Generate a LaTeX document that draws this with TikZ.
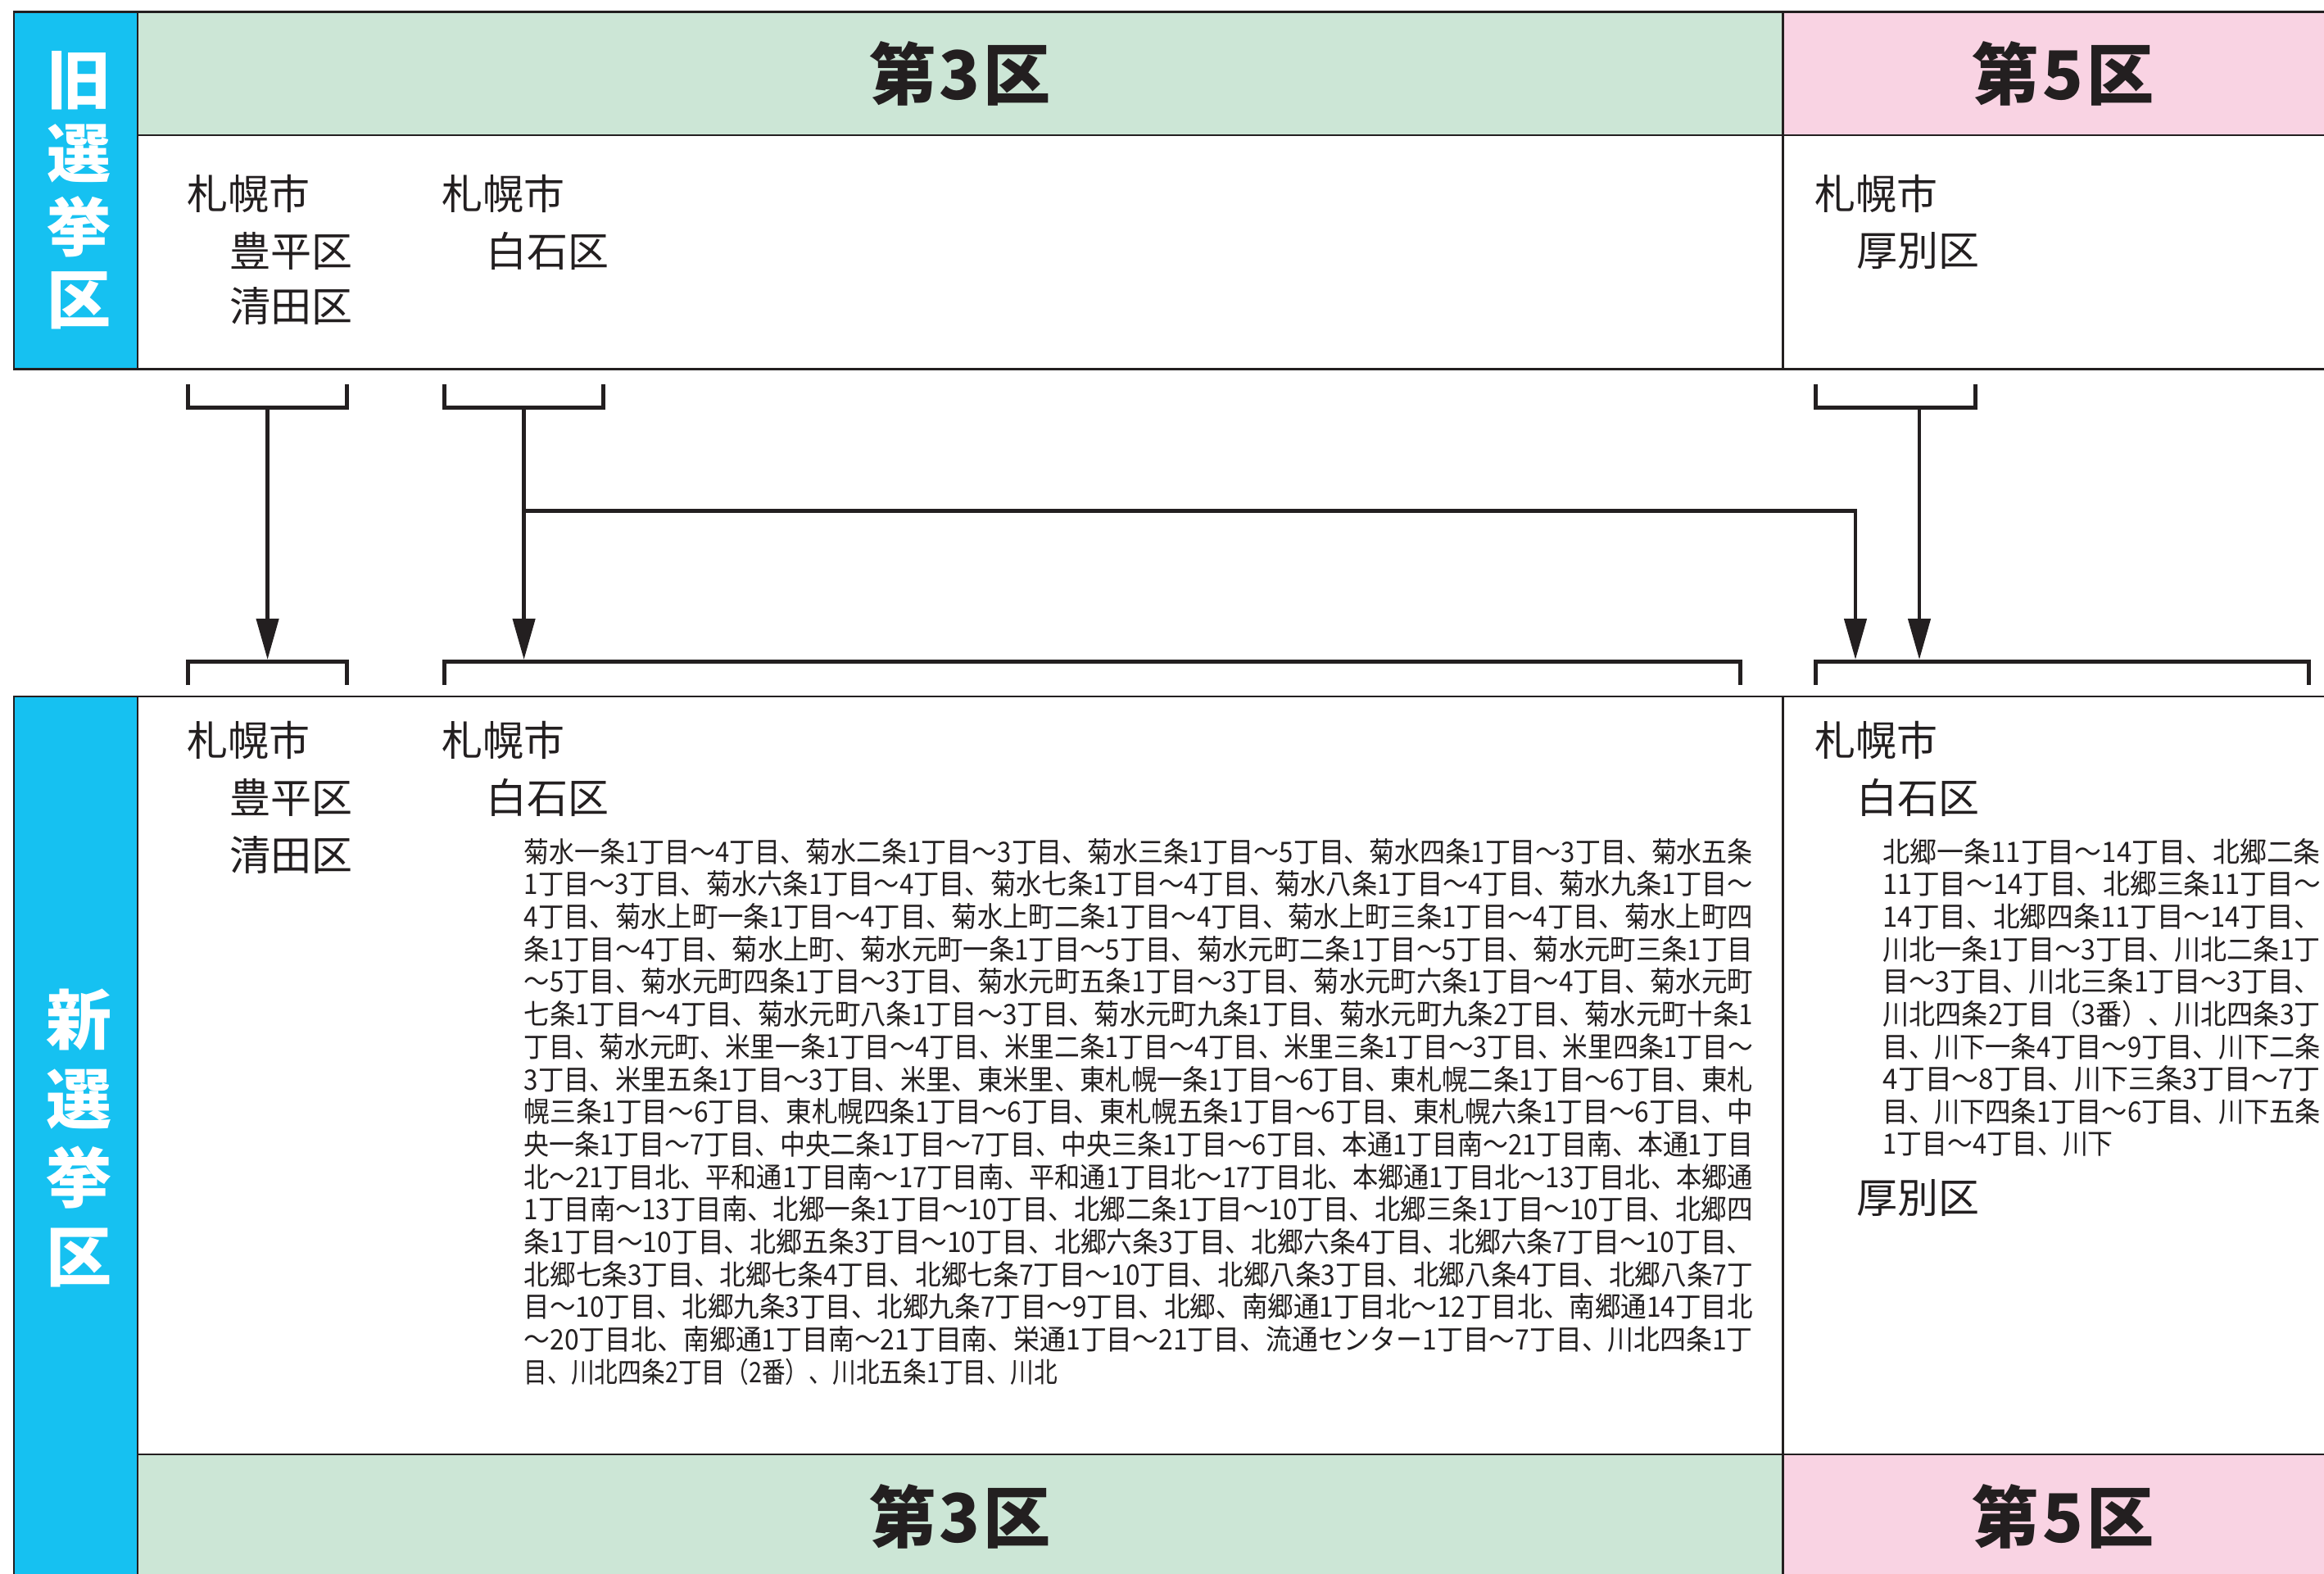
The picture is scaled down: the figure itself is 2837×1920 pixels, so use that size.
\documentclass[tikz,border=0pt]{standalone}
\usepackage{graphicx}
\usepackage{fontspec}
\newfontfamily\cjk{Noto Sans CJK JP}
\usetikzlibrary{arrows.meta}
\definecolor{inkc}{HTML}{231F20}
\definecolor{bluec}{HTML}{16C1F1}
\definecolor{greenc}{HTML}{CCE6D6}
\definecolor{pinkc}{HTML}{F9D3E3}
\begin{document}
\begin{tikzpicture}[x=0.25pt,y=-0.25pt,
  tbl/.style={draw=inkc,line width=0.7pt},
  lbl/.style={font=\cjk\fontsize{12.5pt}{15pt}\selectfont,text=inkc,inner sep=0pt,anchor=west},
  sm/.style={font=\cjk\fontsize{8.6pt}{10pt}\selectfont,text=inkc,inner sep=0pt,anchor=west},
  hdr/.style={font=\cjk\bfseries\fontsize{20.5pt}{24pt}\selectfont,text=inkc,inner sep=0pt},
  vtop/.style={font=\cjk\bfseries\fontsize{19.5pt}{22pt}\selectfont,text=white,inner sep=0pt},
  vbot/.style={font=\cjk\bfseries\fontsize{20pt}{22pt}\selectfont,text=white,inner sep=0pt},
  brk/.style={draw=inkc,line width=1.25pt,line join=miter},
  arr/.style={draw=inkc,line width=1.1pt,line join=miter,-{Triangle[width=6.75pt,length=12.5pt]}}]
\useasboundingbox (0,0) rectangle (2837,1920);
\clip (0,0) rectangle (2837,1920);
\fill[white] (0,0) rectangle (2837,1920);
% ---- top table ----
\fill[bluec] (17,14.5) rectangle (168,450.5);
\fill[greenc] (168,14.5) rectangle (2176.5,165);
\fill[pinkc] (2176.5,14.5) rectangle (2861,165);
\draw[tbl] (17,14.5) rectangle (2861,450.5);
\draw[tbl] (168,14.5) -- (168,450.5);
\draw[tbl] (168,165) -- (2861,165);
\draw[tbl] (2176.5,14.5) -- (2176.5,450.5);
% ---- bottom table ----
\fill[bluec] (17,850) rectangle (168,1925);
\fill[greenc] (168,1775) rectangle (2176.5,1925);
\fill[pinkc] (2176.5,1775) rectangle (2861,1925);
\draw[tbl] (17,850) rectangle (2861,1925);
\draw[tbl] (168,850) -- (168,1925);
\draw[tbl] (168,1775) -- (2861,1775);
\draw[tbl] (2176.5,850) -- (2176.5,1925);
% ---- side labels ----
\node[vtop] (o1) at (96,98) {旧};
\node[vtop] (o2) at (96,187) {選};
\node[vtop] (o3) at (96,276.5) {挙};
\node[vtop] (o4) at (96,367) {区};
\node[vbot] (n1) at (96,1245) {新};
\node[vbot] (n2) at (96,1342) {選};
\node[vbot] (n3) at (96,1437) {挙};
\node[vbot] (n4) at (96,1535) {区};
% ---- headers ----
\node[hdr] (h3t) at (1172,90) {第\kern1pt3\kern1pt区};
\node[hdr] (h5t) at (2518.6,90) {第\kern1pt5\kern1pt区};
\node[hdr] (h3b) at (1172,1851) {第\kern1pt3\kern1pt区};
\node[hdr] (h5b) at (2518.6,1851) {第\kern1pt5\kern1pt区};
% ---- old district labels ----
\node[lbl] (os1) at (228,236) {札幌市};
\node[lbl] (ot) at (280,306) {豊平区};
\node[lbl] (ok) at (280,374) {清田区};
\node[lbl] (os2) at (539,236) {札幌市};
\node[lbl] (osh) at (593,306) {白石区};
\node[lbl] (os3) at (2215,236) {札幌市};
\node[lbl] (oa) at (2266,306) {厚別区};
% ---- new district labels ----
\node[lbl] (ns1) at (228,903) {札幌市};
\node[lbl] (nt) at (280,973) {豊平区};
\node[lbl] (nk) at (280,1044) {清田区};
\node[lbl] (ns2) at (539,903) {札幌市};
\node[lbl] (nsh) at (593,973) {白石区};
\node[lbl] (ns3) at (2215,903) {札幌市};
\node[lbl] (nsh2) at (2266,973) {白石区};
\node[lbl] (na) at (2266,1462) {厚別区};
% ---- middle paragraph ----
\foreach \i/\t in {
0/{菊水一条1丁目～4丁目、菊水二条1丁目～3丁目、菊水三条1丁目～5丁目、菊水四条1丁目～3丁目、菊水五条},
1/{1丁目～3丁目、菊水六条1丁目～4丁目、菊水七条1丁目～4丁目、菊水八条1丁目～4丁目、菊水九条1丁目～},
2/{4丁目、菊水上町一条1丁目～4丁目、菊水上町二条1丁目～4丁目、菊水上町三条1丁目～4丁目、菊水上町四},
3/{条1丁目～4丁目、菊水上町、菊水元町一条1丁目～5丁目、菊水元町二条1丁目～5丁目、菊水元町三条1丁目},
4/{～5丁目、菊水元町四条1丁目～3丁目、菊水元町五条1丁目～3丁目、菊水元町六条1丁目～4丁目、菊水元町},
5/{七条1丁目～4丁目、菊水元町八条1丁目～3丁目、菊水元町九条1丁目、菊水元町九条2丁目、菊水元町十条1},
6/{丁目、菊水元町、米里一条1丁目～4丁目、米里二条1丁目～4丁目、米里三条1丁目～3丁目、米里四条1丁目～},
7/{3丁目、米里五条1丁目～3丁目、米里、東米里、東札幌一条1丁目～6丁目、東札幌二条1丁目～6丁目、東札},
8/{幌三条1丁目～6丁目、東札幌四条1丁目～6丁目、東札幌五条1丁目～6丁目、東札幌六条1丁目～6丁目、中},
9/{央一条1丁目～7丁目、中央二条1丁目～7丁目、中央三条1丁目～6丁目、本通1丁目南～21丁目南、本通1丁目},
10/{北～21丁目北、平和通1丁目南～17丁目南、平和通1丁目北～17丁目北、本郷通1丁目北～13丁目北、本郷通},
11/{1丁目南～13丁目南、北郷一条1丁目～10丁目、北郷二条1丁目～10丁目、北郷三条1丁目～10丁目、北郷四},
12/{条1丁目～10丁目、北郷五条3丁目～10丁目、北郷六条3丁目、北郷六条4丁目、北郷六条7丁目～10丁目、},
13/{北郷七条3丁目、北郷七条4丁目、北郷七条7丁目～10丁目、北郷八条3丁目、北郷八条4丁目、北郷八条7丁},
14/{目～10丁目、北郷九条3丁目、北郷九条7丁目～9丁目、北郷、南郷通1丁目北～12丁目北、南郷通14丁目北},
15/{～20丁目北、南郷通1丁目南～21丁目南、栄通1丁目～21丁目、流通センター1丁目～7丁目、川北四条1丁}}
  \node[sm] (m\i) at (639,1039+\i*39.7) {\resizebox{375pt}{\height}{\t}};
\node[sm] (m16) at (639,1674.2) {\resizebox{162.75pt}{\height}{目、川北四条2丁目（2番）、川北五条1丁目、川北}};
% ---- right paragraph ----
\foreach \i/\t in {
0/{北郷一条11丁目～14丁目、北郷二条},
1/{11丁目～14丁目、北郷三条11丁目～},
2/{14丁目、北郷四条11丁目～14丁目、},
3/{川北一条1丁目～3丁目、川北二条1丁},
4/{目～3丁目、川北三条1丁目～3丁目、},
5/{川北四条2丁目（3番）、川北四条3丁},
6/{目、川下一条4丁目～9丁目、川下二条},
7/{4丁目～8丁目、川下三条3丁目～7丁},
8/{目、川下四条1丁目～6丁目、川下五条}}
  \node[sm] (r\i) at (2298,1039+\i*39.7) {\resizebox{133.5pt}{\height}{\t}};
\node[sm] (r9) at (2298,1396.3) {\resizebox{70.25pt}{\height}{1丁目～4丁目、川下}};
% ---- brackets ----
\draw[brk] (229.8,468.6) -- (229.8,497.6) -- (423.4,497.6) -- (423.4,468.6);
\draw[brk] (542.8,468.6) -- (542.8,497.6) -- (736.4,497.6) -- (736.4,468.6);
\draw[brk] (2216,468.6) -- (2216,497.6) -- (2411,497.6) -- (2411,468.6);
\draw[brk] (229.8,836) -- (229.8,807) -- (423.4,807) -- (423.4,836);
\draw[brk] (542.8,836) -- (542.8,807) -- (2124,807) -- (2124,836);
\draw[brk] (2216,836) -- (2216,807) -- (2818,807) -- (2818,836);
% ---- connectors ----
\coordinate (sA) at (326.6,497.6);
\coordinate (tA) at (326.6,805);
\coordinate (sB) at (639.6,497.6);
\coordinate (tB) at (639.6,805);
\coordinate (jB) at (639.6,623.5);
\coordinate (tX) at (2265,805);
\coordinate (sC) at (2343,497.6);
\coordinate (tC) at (2343,805);
\draw[arr] (sA) -- (tA);
\draw[arr] (sB) -- (tB);
\draw[arr] (jB) -| (tX);
\draw[arr] (sC) -- (tC);
\end{tikzpicture}
\end{document}
